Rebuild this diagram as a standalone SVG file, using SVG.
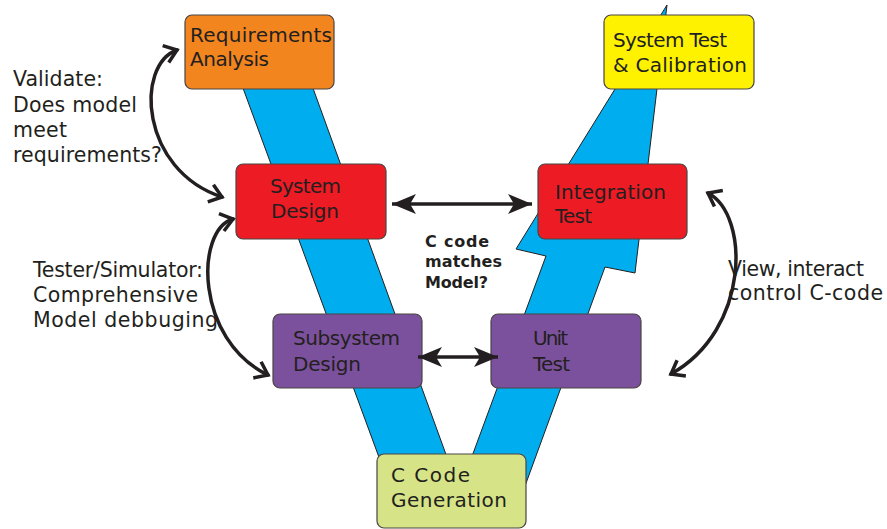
<svg xmlns="http://www.w3.org/2000/svg" width="887" height="529" viewBox="0 0 887 529">
  <style>
    .band { fill: #00AEEF; stroke: #231F20; stroke-width: 1; stroke-linejoin: miter; }
    .box { stroke: #4A4444; stroke-width: 1.2; }
    .lbl { font-family: "DejaVu Sans", "Liberation Sans", sans-serif; font-size: 20px; fill: #231F20; }
    .note { font-family: "DejaVu Sans", "Liberation Sans", sans-serif; font-size: 20.5px; fill: #231F20; }
    .bold { font-family: "DejaVu Sans", "Liberation Sans", sans-serif; font-size: 16px; font-weight: bold; fill: #231F20; }
    .curve { fill: none; stroke: #231F20; stroke-width: 3.5; stroke-linecap: round; }
    .straight { fill: none; stroke: #231F20; stroke-width: 3.5; }
  </style>
  <defs>
    <marker id="chevron" viewBox="-15 -11 19 22" markerWidth="19" markerHeight="22" refX="0" refY="0" orient="auto-start-reverse" markerUnits="userSpaceOnUse">
      <path d="M -12,-9 L 0,0 L -12,9" fill="none" stroke="#231F20" stroke-width="3.5" stroke-linejoin="miter"/>
    </marker>
    <marker id="barb" viewBox="-26 -12 28 24" markerWidth="28" markerHeight="24" refX="0" refY="0" orient="auto-start-reverse" markerUnits="userSpaceOnUse">
      <path d="M 0,0 L -24,-10 L -18,0 L -24,10 Z" fill="#231F20"/>
    </marker>
  </defs>

  <!-- V-shaped process bands -->
  <g id="bands">
    <polygon class="band" points="240,80 310,80 448,460 380,460"/>
    <polygon class="band" points="667,5 635,273 605,267 525,486 461,486 546,256 516,249"/>
  </g>

  <g id="requirements-analysis">
    <rect class="box" x="185" y="15" width="149" height="74" rx="7" fill="#F3851F"/>
    <text class="lbl" x="190" y="42" textLength="142">Requirements</text>
    <text class="lbl" x="190" y="66" textLength="79">Analysis</text>
  </g>

  <g id="system-design">
    <rect class="box" x="236" y="164" width="150" height="75" rx="7" fill="#ED1C24"/>
    <text class="lbl" x="270" y="193" textLength="71">System</text>
    <text class="lbl" x="271" y="218" textLength="68">Design</text>
  </g>

  <g id="system-test-calibration">
    <rect class="box" x="604" y="15" width="150" height="74" rx="7" fill="#FFF200"/>
    <text class="lbl" x="613" y="47" textLength="114">System Test</text>
    <text class="lbl" x="613" y="72" textLength="134">&amp; Calibration</text>
  </g>

  <g id="integration-test">
    <rect class="box" x="538" y="164" width="149" height="75" rx="7" fill="#ED1C24"/>
    <text class="lbl" x="555" y="199" textLength="111">Integration</text>
    <text class="lbl" x="555" y="223" textLength="37">Test</text>
  </g>

  <g id="subsystem-design">
    <rect class="box" x="273" y="314" width="149" height="74" rx="7" fill="#7B519D"/>
    <text class="lbl" x="293" y="345" textLength="107">Subsystem</text>
    <text class="lbl" x="293" y="371" textLength="68">Design</text>
  </g>

  <g id="unit-test">
    <rect class="box" x="491" y="314" width="150" height="74" rx="7" fill="#7B519D"/>
    <text class="lbl" x="533" y="345" textLength="35">Unit</text>
    <text class="lbl" x="533" y="371" textLength="37">Test</text>
  </g>

  <g id="c-code-generation">
    <rect class="box" x="377" y="454" width="149" height="74" rx="7" fill="#D6E387"/>
    <text class="lbl" x="391" y="482" textLength="79">C Code</text>
    <text class="lbl" x="391" y="507" textLength="116">Generation</text>
  </g>

  <!-- connectors -->
  <g id="connectors">
    <path class="curve" d="M 177,50 C 135,65 140,170 222,197" marker-start="url(#chevron)" marker-end="url(#chevron)"/>
    <path class="curve" d="M 233,219 C 195,230 195,340 268,375" marker-start="url(#chevron)" marker-end="url(#chevron)"/>
    <path class="curve" d="M 708,193 C 750,215 750,330 671,374" marker-start="url(#chevron)" marker-end="url(#chevron)"/>
    <line class="straight" x1="392" y1="204" x2="532" y2="204" marker-start="url(#barb)" marker-end="url(#barb)"/>
    <line class="straight" x1="418" y1="357" x2="498" y2="357" marker-start="url(#barb)" marker-end="url(#barb)"/>
  </g>

  <!-- annotations -->
  <g id="annotations">
    <text class="note" x="13" y="86" textLength="90">Validate:</text>
    <text class="note" x="13" y="112" textLength="124">Does model</text>
    <text class="note" x="13" y="137" textLength="54">meet</text>
    <text class="note" x="13" y="162" textLength="149">requirements?</text>
    <text class="note" x="33" y="277" textLength="170">Tester/Simulator:</text>
    <text class="note" x="33" y="302" textLength="165">Comprehensive</text>
    <text class="note" x="33" y="327" textLength="185">Model debbuging</text>
    <text class="note" x="728" y="276" textLength="136">View, interact</text>
    <text class="note" x="728" y="300" textLength="155">control C-code</text>
    <text class="bold" x="425" y="247" textLength="64">C code</text>
    <text class="bold" x="425" y="267" textLength="77">matches</text>
    <text class="bold" x="425" y="288" textLength="63">Model?</text>
  </g>
</svg>
